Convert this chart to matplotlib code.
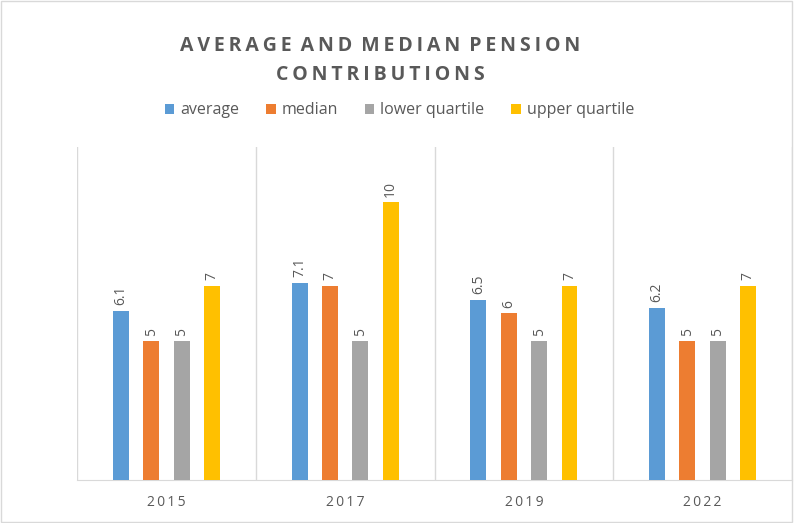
import matplotlib.pyplot as plt
import numpy as np
from matplotlib.patches import Rectangle

years = ['2015', '2017', '2019', '2022']
series = ['average', 'median', 'lower quartile', 'upper quartile']
average = [6.1, 7.1, 6.5, 6.2]
median = [5, 7, 6, 5]
lower_quartile = [5, 5, 5, 5]
upper_quartile = [7, 10, 7, 7]
colors = ['#5B9BD5', '#ED7D31', '#A5A5A5', '#FFC000']

plt.rcParams['font.family'] = ['Open Sans', 'DejaVu Sans']
txt = '#595959'


def spaced(s, gap='\u2009'):
    # excel-ish letter spacing between the letters of each word
    return (gap + ' ').join(gap.join(w) for w in s.split(' '))


fig = plt.figure(figsize=(7.94, 5.23), dpi=100)
ax = fig.add_axes([0.097, 0.0822, 0.9005, 0.637])

x = np.arange(len(years))
width = 0.089
step = 0.17
for i, (name, vals) in enumerate(zip(series, [average, median, lower_quartile, upper_quartile])):
    pos = x + (i - 1.5) * step
    ax.bar(pos, vals, width, color=colors[i], label=name, zorder=3)
    for p, v in zip(pos, vals):
        ax.text(p, v + 0.2, f'{v:g}', rotation=90, ha='center', va='bottom',
                fontsize=10, color=txt)

ax.set_xlim(-0.5, len(years) - 0.5)
ax.set_ylim(0, 12)
ax.set_yticks([])
ax.set_xticks(x)
ax.set_xticklabels([spaced(y) for y in years], fontsize=10, color=txt)
ax.tick_params(axis='x', length=0, pad=11)
ax.set_xticks(np.arange(-0.5, len(years)), minor=True)
ax.tick_params(axis='x', which='minor', length=0)
ax.grid(axis='x', which='minor', color='#D9D9D9', linewidth=1, zorder=0)
for s in ['top', 'right', 'left']:
    ax.spines[s].set_visible(False)
ax.spines['bottom'].set_color('#D9D9D9')

fig.text(0.479, 0.912, spaced('AVERAGE AND MEDIAN PENSION'), ha='center', va='center',
         fontsize=14, fontweight='bold', color=txt)
fig.text(0.479, 0.856, spaced('CONTRIBUTIONS'), ha='center', va='center',
         fontsize=14, fontweight='bold', color=txt)

fig.legend(loc='center', bbox_to_anchor=(0.503, 0.789), ncol=4, frameon=False,
           fontsize=11.5, labelcolor=txt, handlelength=0.6, handleheight=0.6,
           handletextpad=0.35, columnspacing=1.7)

fig.patches.append(Rectangle((0.001, 0.001), 0.997, 0.997, transform=fig.transFigure,
                             fill=False, edgecolor='#D9D9D9', linewidth=1))

fig.savefig('out.png', dpi=100)
